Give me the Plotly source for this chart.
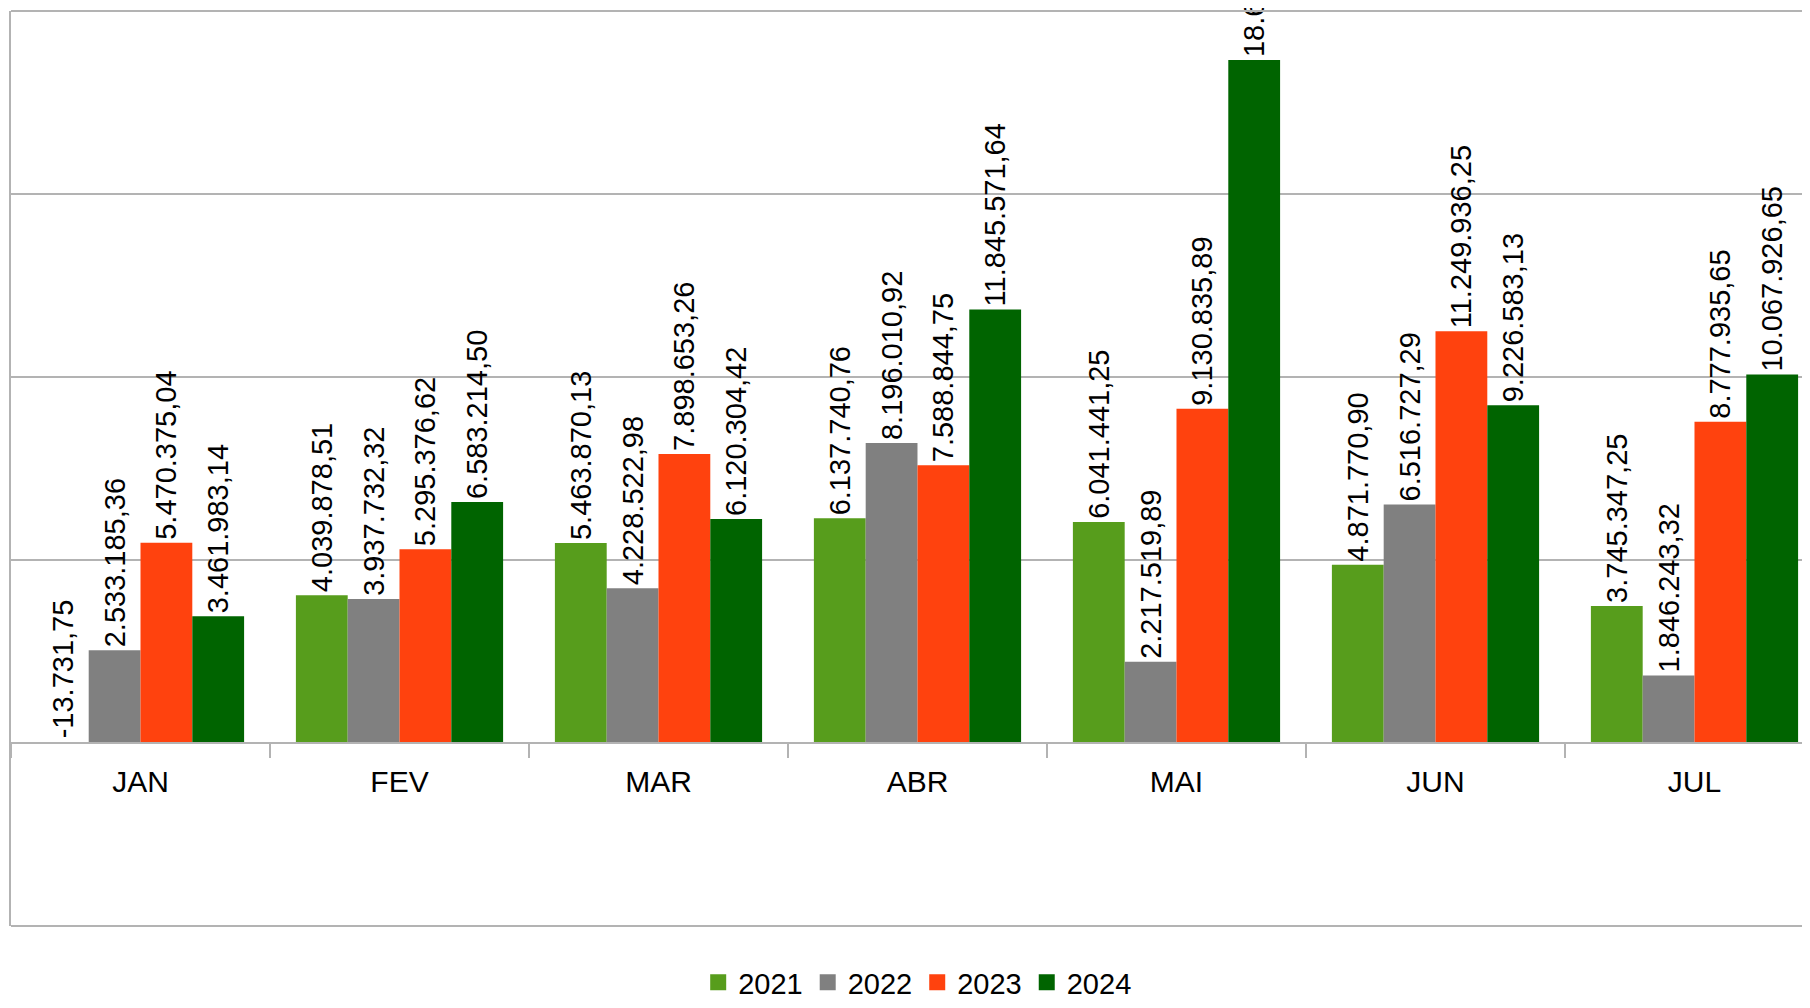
import plotly.graph_objects as go

months = ["JAN", "FEV", "MAR", "ABR", "MAI", "JUN", "JUL"]
years = ["2021", "2022", "2023", "2024"]
v2021 = [-13731.75, 4039878.51, 5463870.13, 6137740.76, 6041441.25, 4871770.90, 3745347.25]
v2022 = [2533185.36, 3937732.32, 4228522.98, 8196010.92, 2217519.89, 6516727.29, 1846243.32]
v2023 = [5470375.04, 5295376.62, 7898653.26, 7588844.75, 9130835.89, 11249936.25, 8777935.65]
v2024 = [3461983.14, 6583214.50, 6120304.42, 11845571.64, 18658412.37, 9226583.13, 10067926.65]
series = [v2021, v2022, v2023, v2024]
colors = ["#579d1c", "#808080", "#ff420e", "#006400"]

FONT = "Liberation Sans, Arial, sans-serif"
GRID = "#b3b3b3"


def fmt(v):
    s = f"{v:,.2f}"
    return s.replace(",", "X").replace(".", ",").replace("X", ".")


fig = go.Figure()
annotations = []
bargap = 0.2
bw = (1 - bargap) / len(years)
for i, (yr, vals, col) in enumerate(zip(years, series, colors)):
    texts = [fmt(v) if v >= 0 else "" for v in vals]
    fig.add_trace(go.Bar(
        x=months, y=vals, name=yr, showlegend=False,
        marker=dict(color=col, line=dict(width=0)),
        text=texts, textposition="outside", textangle=-90,
        textfont=dict(family=FONT, size=29, color="#000000"),
        cliponaxis=False, constraintext="none",
    ))
    for j, v in enumerate(vals):
        if v < 0:
            annotations.append(dict(
                x=j - (1 - bargap) / 2 + bw * (i + 0.5), y=0, xref="x", yref="y",
                text=fmt(v), textangle=-90, showarrow=False,
                xanchor="center", yanchor="bottom", yshift=3,
                font=dict(family=FONT, size=29, color="#000000"),
            ))

# legend entries (square swatches)
for yr, col in zip(years, colors):
    fig.add_trace(go.Scatter(
        x=[None], y=[None], mode="markers", name=yr,
        marker=dict(symbol="square", size=16, color=col),
        showlegend=True,
    ))

fig.update_layout(
    width=1802, height=1000,
    margin=dict(l=3, r=0, t=3, b=80),
    paper_bgcolor="white", plot_bgcolor="white",
    barmode="group", bargap=bargap, bargroupgap=0,
    font=dict(family=FONT, size=29, color="#000000"),
    showlegend=True,
    legend=dict(orientation="h", x=0.504, y=-0.062, xanchor="center", yanchor="middle",
                font=dict(family=FONT, size=29), itemwidth=30,
                bgcolor="rgba(0,0,0,0)"),
    annotations=annotations,
    xaxis=dict(
        type="category", range=[-0.5, 6.446],
        anchor="free", position=0.2,
        showline=True, linecolor=GRID, linewidth=2,
        ticks="outside", tickson="boundaries", ticklen=14, tickcolor=GRID, tickwidth=2,
        ticklabelstandoff=12,
        showgrid=False, tickfont=dict(family=FONT, size=30, color="#000000"),
    ),
    yaxis=dict(
        range=[-5000000, 20000000], dtick=5000000, tick0=0,
        showgrid=True, gridcolor=GRID, gridwidth=1.5,
        zeroline=False, showticklabels=False,
        showline=True, linecolor=GRID, linewidth=2,
    ),
    shapes=[
        dict(type="line", xref="paper", yref="paper", x0=0, x1=1, y0=1, y1=1,
             line=dict(color=GRID, width=2)),
        dict(type="line", xref="paper", yref="paper", x0=0, x1=1, y0=0, y1=0,
             line=dict(color=GRID, width=2)),
    ],
)

fig.write_html("out.html")
